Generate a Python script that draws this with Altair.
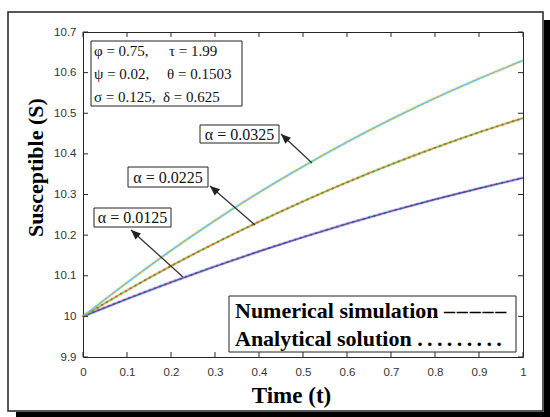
import math
import altair as alt
import pandas as pd

# ---------------- data ----------------
t_values = [0.0, 0.1, 0.2, 0.3, 0.4, 0.5, 0.6, 0.7, 0.8, 0.9, 1.0]
S_alpha_0125 = [10.0, 10.043, 10.084, 10.123, 10.160, 10.195, 10.228, 10.259, 10.288, 10.315, 10.341]
S_alpha_0225 = [10.0, 10.064, 10.124, 10.180, 10.233, 10.283, 10.330, 10.374, 10.415, 10.453, 10.488]
S_alpha_0325 = [10.0, 10.083, 10.162, 10.236, 10.305, 10.369, 10.429, 10.485, 10.537, 10.585, 10.630]
alpha_labels = ["α = 0.0125", "α = 0.0225", "α = 0.0325"]
x_ticks = [0, 0.1, 0.2, 0.3, 0.4, 0.5, 0.6, 0.7, 0.8, 0.9, 1.0]
y_ticks = [9.9, 10.0, 10.1, 10.2, 10.3, 10.4, 10.5, 10.6, 10.7]
param_left = ["φ = 0.75,", "ψ = 0.02,", "σ = 0.125,"]
param_right = ["τ = 1.99", "θ = 0.1503", "δ = 0.625"]
legend_lines = ["Numerical simulation \u2013\u200a\u2013\u200a\u2013\u200a\u2013\u200a\u2013",
                "Analytical solution .\u2009.\u2009.\u2009.\u2009.\u2009.\u2009.\u2009.\u2009."]

# ---------------- layout / style ----------------
X0, Y0, W, H = 83, 32, 440, 325
XMIN, XMAX, YMIN, YMAX = 0.0, 1.0, 9.9, 10.7
num_colors = ["#7E2F8E", "#77AC30", "#4DBEEE"]
ana_colors = ["#0072BD", "#D95319", "#EDB120"]
SERIF = "Liberation Serif"


def to_t(px):
    return XMIN + (px - X0) / W * (XMAX - XMIN)


def to_S(py):
    return YMIN + (Y0 + H - py) / H * (YMAX - YMIN)


xscale = alt.Scale(domain=[XMIN, XMAX], nice=False, zero=False)
yscale = alt.Scale(domain=[YMIN, YMAX], nice=False, zero=False)

xaxis = alt.Axis(values=x_ticks, format=".1~f", ticks=False, tickSize=0, domain=False,
                 grid=False, labelFont="Liberation Sans", labelFontSize=11.5,
                 labelColor="#333333", labelPadding=9, labelFlush=False, labelOverlap=False,
                 title="Time (t)", titleFont=SERIF, titleFontWeight="bold", titleFontSize=23,
                 titleColor="#000000", titleX=208, titleY=38, titleAlign="center",
                 titleBaseline="middle", zindex=1)
yaxis = alt.Axis(values=y_ticks, format=".1~f", ticks=False, tickSize=0, domain=False,
                 grid=False, labelFont="Liberation Sans", labelFontSize=11.5,
                 labelColor="#333333", labelPadding=7, labelFlush=False, labelOverlap=False,
                 title="Susceptible (S)", titleFont=SERIF, titleFontWeight="bold",
                 titleFontSize=22, titleColor="#000000", titleAngle=270, titleX=-48,
                 titleY=135, titleAlign="center", titleBaseline="middle", zindex=1)


def X(f):
    return alt.X(f, type="quantitative", scale=xscale, axis=xaxis)


def Y(f):
    return alt.Y(f, type="quantitative", scale=yscale, axis=yaxis)


series = [S_alpha_0125, S_alpha_0225, S_alpha_0325]
layers = []

one = pd.DataFrame({"k": [0]})
# outer frame with shadow
layers.append(alt.Chart(one).mark_rect(color="#000000").encode(
    x=alt.value(461), x2=alt.value(467), y=alt.value(-12), y2=alt.value(385)))
layers.append(alt.Chart(one).mark_rect(color="#000000").encode(
    x=alt.value(-67), x2=alt.value(467), y=alt.value(380), y2=alt.value(385)))
layers.append(alt.Chart(one).mark_rect(fillOpacity=0, stroke="#222222", strokeWidth=1.5).encode(
    x=alt.value(-75), x2=alt.value(460), y=alt.value(-20), y2=alt.value(379)))

# curves
for i, s in enumerate(series):
    df = pd.DataFrame({"t": t_values, "S": s})
    layers.append(alt.Chart(df).mark_line(color=num_colors[i], strokeWidth=3, opacity=0.35,
                                          interpolate="monotone").encode(x=X("t"), y=Y("S")))
    layers.append(alt.Chart(df).mark_line(color=num_colors[i], strokeWidth=1.1,
                                          interpolate="monotone").encode(x=X("t"), y=Y("S")))
    layers.append(alt.Chart(df).mark_line(color=ana_colors[i], strokeWidth=1.8,
                                          strokeDash=[0.5, 5], strokeCap="round",
                                          interpolate="monotone").encode(x=X("t"), y=Y("S")))

# inward ticks on all four sides
xt = pd.DataFrame({"t": x_ticks})
yt = pd.DataFrame({"S": y_ticks})
tick_style = dict(color="#262626", strokeWidth=1)
layers.append(alt.Chart(xt).mark_rule(**tick_style).encode(x=X("t"), y=alt.value(H), y2=alt.value(H - 5)))
layers.append(alt.Chart(xt).mark_rule(**tick_style).encode(x=X("t"), y=alt.value(0), y2=alt.value(5)))
layers.append(alt.Chart(yt).mark_rule(**tick_style).encode(y=Y("S"), x=alt.value(0), x2=alt.value(5)))
layers.append(alt.Chart(yt).mark_rule(**tick_style).encode(y=Y("S"), x=alt.value(W), x2=alt.value(W - 5)))

# annotation arrows (pixel positions of tail on curve and head near label box)
arrow_px = [((183, 277), (131, 230)), ((255, 225), (210, 186)), ((312, 163), (281, 134))]
arr = pd.DataFrame({
    "t1": [to_t(a[0][0]) for a in arrow_px], "S1": [to_S(a[0][1]) for a in arrow_px],
    "t2": [to_t(a[1][0]) for a in arrow_px], "S2": [to_S(a[1][1]) for a in arrow_px],
    "ang": [(math.degrees(math.atan2(a[1][0] - a[0][0], -(a[1][1] - a[0][1]))) + 360) % 360
            for a in arrow_px],
})
layers.append(alt.Chart(arr).mark_rule(color="#333333", strokeWidth=1.3).encode(
    x=X("t1"), y=Y("S1"), x2="t2", y2="S2"))
layers.append(alt.Chart(arr).mark_point(shape="M0,0L-0.42,1L0.42,1Z", filled=True, opacity=1,
                                        size=380, color="#222222").encode(
    x=X("t2"), y=Y("S2"), angle=alt.Angle("ang:Q", scale=None)))

# alpha label boxes
box_px = [(94, 208, 171, 227), (128, 167, 208, 187), (200, 125, 279, 143)]
boxes = pd.DataFrame({
    "label": alpha_labels,
    "ta": [to_t(b[0]) for b in box_px], "tb": [to_t(b[2]) for b in box_px],
    "Sa": [to_S(b[1]) for b in box_px], "Sb": [to_S(b[3]) for b in box_px],
    "tc": [to_t((b[0] + b[2]) / 2) for b in box_px], "Sc": [to_S((b[1] + b[3]) / 2 + 0.5) for b in box_px],
})
layers.append(alt.Chart(boxes).mark_rect(fill="white", stroke="#222222", strokeWidth=1).encode(
    x=X("ta"), x2="tb", y=Y("Sa"), y2="Sb"))
layers.append(alt.Chart(boxes).mark_text(font=SERIF, fontSize=16, color="#111111",
                                         baseline="middle", align="center").encode(
    x=X("tc"), y=Y("Sc"), text="label:N"))

# parameter box
pbox = pd.DataFrame({"ta": [to_t(91)], "tb": [to_t(242)], "Sa": [to_S(41)], "Sb": [to_S(106)]})
layers.append(alt.Chart(pbox).mark_rect(fill="white", stroke="#222222", strokeWidth=1).encode(
    x=X("ta"), x2="tb", y=Y("Sa"), y2="Sb"))
row_py = [51, 74, 97]
pl = pd.DataFrame({"txt": param_left, "t": [to_t(94)] * 3, "S": [to_S(p) for p in row_py]})
pr = pd.DataFrame({"txt": param_right, "t": [to_t(p) for p in (169, 167, 163)],
                   "S": [to_S(p) for p in row_py]})
for d in (pl, pr):
    layers.append(alt.Chart(d).mark_text(font=SERIF, fontSize=15, color="#111111",
                                         baseline="middle", align="left").encode(
        x=X("t"), y=Y("S"), text="txt:N"))

# legend box
lbox = pd.DataFrame({"ta": [to_t(229)], "tb": [to_t(516)], "Sa": [to_S(296)], "Sb": [to_S(352)]})
layers.append(alt.Chart(lbox).mark_rect(fill="white", stroke="#222222", strokeWidth=1).encode(
    x=X("ta"), x2="tb", y=Y("Sa"), y2="Sb"))
lt = pd.DataFrame({"txt": legend_lines, "t": [to_t(235)] * 2, "S": [to_S(311), to_S(339)]})
layers.append(alt.Chart(lt).mark_text(font=SERIF, fontSize=22, fontWeight="bold", color="#000000",
                                      baseline="middle", align="left").encode(
    x=X("t"), y=Y("S"), text="txt:N"))

chart = alt.layer(*layers).properties(
    width=W, height=H,
    padding={"left": X0, "top": Y0, "right": 550 - X0 - W, "bottom": 417 - Y0 - H},
    autosize=alt.AutoSizeParams(type="none"),
    background="white",
).configure_view(stroke="#262626", strokeWidth=1)

chart.save("out.html", embed_options={"renderer": "svg", "actions": False})
